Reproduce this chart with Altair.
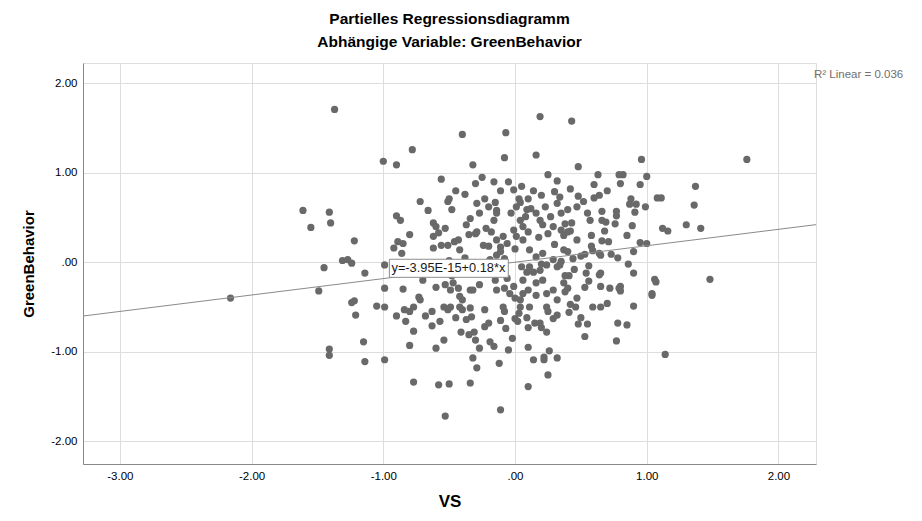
import altair as alt
import pandas as pd

# Partial regression scatter: residualised VS (x) vs residualised GreenBehavior (y)
vs = [
    -1.37, -1.00, -1.61, -1.41, -1.55, -1.40, -1.22, -1.31, -1.27, -1.24, -1.45, -1.14, -0.99,
    -1.49, -2.16, -0.99, -1.24, -1.22, -1.21, -1.05, -0.99, -1.15, -1.41, -1.41, -1.14, -0.99,
    0.19, -0.40, -0.07, -0.78, -0.90, -0.08, -0.32, 0.16, -0.56, 0.25, 0.32, -0.16, -0.11,
    -0.01, 0.14, 0.20, 0.30, -0.38, -0.50, -0.23, 0.03, 0.10,
    0.43, 0.96, 0.48, 1.37, 0.63, 0.79, 0.82, 1.00, 0.60, 0.80, 0.95, 0.42, 0.48, 0.64, 0.88,
    1.08, 1.11, 0.34, 1.76,
    1.36, 1.30, 1.41, 1.12, 1.16, 1.48, 1.06, 1.07, 1.04, 1.04, 0.95, 1.00, 0.90, 0.86, 0.90,
    0.90, 0.92, 0.87, 0.91, 0.99, 0.89, 0.77, 0.77, 0.76, 0.66, 0.66, 0.69, 0.68, 0.66, 0.71,
    0.55, 0.57, 0.47, 0.40, 0.38, 0.43, 0.40, 0.42, 0.35, 0.37, 0.58, 0.59, 0.64, 0.65, 0.53,
    0.50, 0.44, 0.73, 0.37, 0.40, 0.35, 0.34, 0.56, 0.54, 0.65, 0.64, 0.56, 0.53, 0.65, 0.72,
    0.80, 0.80, 0.79, 0.38, 0.41, 0.37, 0.40, 0.38, 0.70, 0.59, 0.65, 0.42, 0.46,
    0.41, 0.48, 0.55, 0.78, 0.85, 0.53, 0.77, 1.14,
    -0.77, -0.58, -0.50, -0.34, -0.53, -0.11, 0.10, 0.25, 0.14, 0.22, 0.22, 0.26, 0.32, 0.10,
    -0.12, -0.32, -0.29, -0.05, -0.27, -0.19, -0.16, -0.30, -0.60, -0.54, -0.80, -0.77, -0.83,
    -0.63, -0.57, -0.41, -0.35, -0.31, -0.37, -0.33, -0.23, -0.20, -0.11, -0.07, 0.00, 0.02,
    0.03, 0.09, 0.10, 0.15, 0.19, 0.20, 0.24, 0.29, 0.32,
    -0.63, -0.51, -0.40, -0.80, -0.84, -0.23, -0.08,
    -0.92, -0.86, -0.85, -0.80, -0.89, -0.73, -0.72, -0.77, -0.62, -0.60, -0.53, -0.58, -0.62,
    -0.62, -0.56, -0.51, -0.46, -0.43, -0.42, -0.51, -0.48, -0.37, -0.34, -0.29, -0.27,
    -0.35, -0.30, -0.29, -0.22, -0.18, -0.16, -0.14, -0.14, -0.15,
    -0.24, -0.14, -0.11, -0.09, -0.06, -0.19, -0.14, -0.11, -0.08,
    -0.03, 0.01, 0.04, 0.09, 0.08, 0.04, -0.01, 0.01, 0.06, 0.06, 0.10,
    0.16, 0.19, 0.21, 0.23, 0.27, 0.32, 0.29, 0.25,
    0.11, 0.16, 0.21, 0.24, 0.29, 0.32, 0.11, 0.09,
    -0.53, -0.49, -0.47, -0.43, -0.42, -0.40, -0.34, -0.32, -0.27,
    -0.14, -0.08, -0.04, -0.01, 0.00, 0.04, 0.06, 0.10, 0.16, 0.21, 0.16, 0.24, 0.29, 0.32,
    -0.54, -0.49, -0.42, -0.34, -0.09, 0.04, 0.11, 0.24,
    -0.06, 0.06, 0.14, 0.19, -0.90, -0.87,
    -0.45, -0.30, -0.20, -0.05, 0.05, 0.12, 0.35, 0.52, 0.58, 0.47, 0.30, 0.18, 0.00, -0.20,
    -0.38, -0.50, -0.65, -0.70, -0.60, -0.48, -0.25, -0.15, 0.05, 0.20, 0.45, 0.47, 0.25, -0.02,
    -0.45, -0.68, -0.90, -0.85, -0.66, -0.72, 0.60, 0.70, 0.85, 0.78, 0.50, -0.25,
]
gb = [
    1.71, 1.13, 0.58, 0.56, 0.39, 0.44, 0.24, 0.02, 0.03, -0.01, -0.06, -0.12, -0.03,
    -0.32, -0.40, -0.29, -0.45, -0.43, -0.59, -0.49, -0.50, -0.89, -0.97, -1.04, -1.11, -1.09,
    1.63, 1.43, 1.45, 1.26, 1.09, 1.17, 1.09, 1.20, 0.93, 0.98, 0.91, 0.90, 0.80,
    0.81, 0.80, 0.75, 0.79, 0.76, 0.71, 0.71, 0.71, 0.71,
    1.58, 1.15, 1.07, 0.85, 0.98, 0.98, 0.98, 0.96, 0.87, 0.88, 0.87, 0.82, 0.74, 0.75, 0.71,
    0.72, 0.72, 0.73, 1.15,
    0.64, 0.42, 0.38, 0.38, 0.35, -0.19, -0.19, -0.22, -0.35, -0.37, 0.22, 0.21, 0.12, -0.02, -0.12,
    -0.49, 0.65, 0.65, 0.56, 0.62, 0.41, 0.57, 0.52, 0.43, 0.57, 0.47, 0.45, 0.35, 0.24, 0.23,
    0.55, 0.47, 0.62, 0.59, 0.43, 0.44, 0.34, 0.35, 0.36, 0.30, 0.18, 0.13, 0.10, 0.08, 0.09,
    0.07, 0.04, 0.09, 0.14, 0.12, 0.01, -0.03, -0.04, -0.12, -0.12, -0.14, -0.21, -0.28, -0.27, -0.29,
    -0.27, -0.32, -0.29, -0.15, -0.15, -0.23, -0.29, -0.33, -0.46, -0.50, -0.50, -0.47, -0.50,
    -0.56, -0.69, -0.69, -0.68, -0.70, -0.83, -0.88, -1.03,
    -1.34, -1.37, -1.36, -1.35, -1.72, -1.65, -1.39, -1.26, -1.09, -1.06, -1.09, -0.99, -1.07, -0.95,
    -1.13, -1.07, -1.18, -0.98, -0.96, -0.89, -0.94, -0.87, -0.96, -0.87, -0.93, -0.77, -0.66,
    -0.71, -0.66, -0.78, -0.81, -0.78, -0.64, -0.61, -0.72, -0.68, -0.65, -0.74, -0.63, -0.66,
    -0.57, -0.62, -0.73, -0.68, -0.68, -0.73, -0.78, -0.63, -0.59,
    -0.55, -0.53, -0.53, -0.55, -0.53, -0.53, -0.55,
    0.16, 0.10, 0.21, 0.31, 0.23, -0.39, -0.42, -0.50, 0.44, 0.40, 0.38, 0.33, 0.29,
    0.16, 0.19, 0.19, 0.23, 0.25, 0.14, 0.68, 0.59, 0.42, 0.49, 0.66, 0.55,
    0.31, 0.32, 0.34, 0.38, 0.34, 0.47, 0.55, 0.58, 0.67,
    0.19, 0.25, 0.17, 0.29, 0.21, 0.03, 0.08, 0.12, 0.04,
    0.55, 0.62, 0.67, 0.59, 0.51, 0.47, 0.36, 0.29, 0.25, 0.40, 0.34,
    0.55, 0.47, 0.42, 0.62, 0.51, 0.66, 0.40, 0.32,
    0.14, 0.06, 0.10, -0.03, 0.03, -0.05, -0.05, -0.11,
    -0.25, -0.31, -0.23, -0.29, -0.38, -0.42, -0.31, -0.31, -0.25,
    -0.31, -0.29, -0.35, -0.27, -0.40, -0.42, -0.35, -0.31, -0.23, -0.20, -0.37, -0.35, -0.31, -0.42,
    -0.50, -0.50, -0.50, -0.51, -0.50, -0.50, -0.50, -0.50,
    -0.18, -0.20, -0.11, -0.09, 0.52, 0.47,
    0.80, 0.88, 0.62, 0.90, 0.85, 0.60, 0.55, 0.68, 0.30, 0.25, 0.20, 0.28, 0.15, 0.18,
    0.05, 0.02, -0.05, -0.20, -0.28, -0.15, -0.10, -0.20, -0.05, -0.02, -0.08, -0.40, -0.55, -0.85,
    -0.62, -0.60, -0.60, -0.30, 0.58, 0.68, 0.72, 0.80, 0.30, 0.05, -0.62, 0.95,
]

# Fit line end points (y = -3.95E-15 + 0.18*x) at the plot's x limits
reg_x = [-3.28, 2.285]
reg_y = [-0.601, 0.421]

# Equation label box (data coordinates)
eq_text = ["y=-3.95E-15+0.18*x"]
eq_box_x = [-0.954]
eq_box_x2 = [-0.051]
eq_box_y = [0.034]
eq_box_y2 = [-0.168]
eq_text_x = [-0.938]
eq_text_y = [-0.067]

r2_text = ["R² Linear = 0.036"]

x_ticks = [-3, -2, -1, 0, 1, 2]
y_ticks = [-2, -1, 0, 1, 2]

points = pd.DataFrame({"VS": vs, "GreenBehavior": gb})
reg = pd.DataFrame({"VS": reg_x, "GreenBehavior": reg_y})
eq = pd.DataFrame({"x": eq_box_x, "x2": eq_box_x2, "y": eq_box_y, "y2": eq_box_y2,
                   "tx": eq_text_x, "ty": eq_text_y, "label": eq_text})
r2 = pd.DataFrame({"label": r2_text})

FONT = "Liberation Sans"
W, H = 733, 401

label_expr = ("datum.value == 0 ? '.00' : (datum.value < 0 ? '-' + format(-datum.value, '.2f')"
              " : format(datum.value, '.2f'))")

x_scale = alt.Scale(domain=[-3.28, 2.285], nice=False, zero=False)
y_scale = alt.Scale(domain=[-2.256, 2.229], nice=False, zero=False)

x_axis = alt.Axis(values=x_ticks, labelExpr=label_expr, grid=True, ticks=False,
                  labelFontSize=11.5, labelPadding=6, title="VS", titleFontSize=17,
                  titlePadding=12)
y_axis = alt.Axis(values=y_ticks, labelExpr=label_expr, grid=True, ticks=False,
                  labelFontSize=11.5, labelPadding=6, title="GreenBehavior", titleFontSize=15,
                  titlePadding=14)

pts = alt.Chart(points).mark_circle(size=52, color="#696969", opacity=1).encode(
    x=alt.X("VS:Q", scale=x_scale, axis=x_axis),
    y=alt.Y("GreenBehavior:Q", scale=y_scale, axis=y_axis),
)

line = alt.Chart(reg).mark_line(color="#8a8a8a", strokeWidth=1).encode(
    x=alt.X("VS:Q", scale=x_scale),
    y=alt.Y("GreenBehavior:Q", scale=y_scale),
)

box = alt.Chart(eq).mark_rect(fill="white", stroke="#8c8c8c", strokeWidth=1).encode(
    x=alt.X("x:Q", scale=x_scale), x2="x2:Q",
    y=alt.Y("y:Q", scale=y_scale), y2="y2:Q",
)

eq_label = alt.Chart(eq).mark_text(align="left", baseline="middle", font=FONT,
                                   fontSize=12.8, color="#1a1a1a").encode(
    x=alt.X("tx:Q", scale=x_scale),
    y=alt.Y("ty:Q", scale=y_scale),
    text="label:N",
)

r2_label = alt.Chart(r2).mark_text(align="left", baseline="middle", font=FONT,
                                   fontSize=11.5, color="#707070").encode(
    x=alt.value(W - 2), y=alt.value(12), text="label:N",
)

chart = alt.layer(pts, line, box, eq_label, r2_label).properties(
    width=W, height=H,
    title=alt.TitleParams(
        text="Partielles Regressionsdiagramm",
        subtitle="Abhängige Variable: GreenBehavior",
        anchor="middle", frame="group", font=FONT, fontSize=15.5, fontWeight="bold",
        color="black", subtitleFont=FONT, subtitleFontSize=15.5, subtitleFontWeight="bold",
        subtitleColor="black", subtitlePadding=7, offset=13,
    ),
    autosize=alt.AutoSizeParams(type="none"),
    padding={"left": 83, "top": 63, "right": 106, "bottom": 57},
).configure_view(stroke=None).configure_axis(
    labelFont=FONT, titleFont=FONT, titleFontWeight="bold", titleColor="black",
    labelColor="#222222", gridColor="#d2d2d2", gridWidth=1, domainColor="#9a9a9a",
    domainWidth=1,
).configure(background="white")

chart.save("out.html", embed_options={"renderer": "svg", "actions": False})
